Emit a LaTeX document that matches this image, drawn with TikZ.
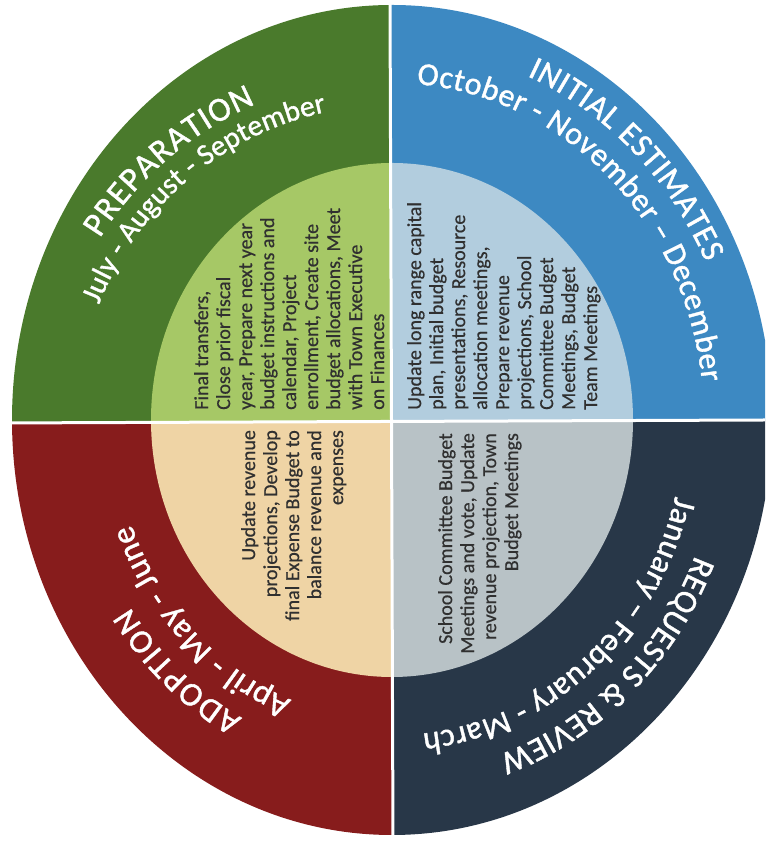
\documentclass[tikz,border=0pt]{standalone}
\usepackage{fontspec}
\setmainfont{Carlito}
\newfontfamily\ringfam{Carlito}[RawFeature={embolden=1.2}]
\newfontfamily\corefam{Carlito}[RawFeature={embolden=0.5}]
\usetikzlibrary{calc,decorations.text}

% quadrant colours: ring (dark) and core (light)
\definecolor{prepRing}{HTML}{4A7A2C}
\definecolor{prepCore}{HTML}{A6C866}
\definecolor{estRing}{HTML}{3D89C2}
\definecolor{estCore}{HTML}{B2CDDE}
\definecolor{adoptRing}{HTML}{871C1C}
\definecolor{adoptCore}{HTML}{EFD4A5}
\definecolor{reqRing}{HTML}{283748}
\definecolor{reqCore}{HTML}{B8C2C6}
\definecolor{coreText}{HTML}{303030}

\begin{document}
\begin{tikzpicture}[x=1pt,y=1pt,
  coretext/.style={rotate=90, inner sep=0pt, text=coreText,
    font=\corefam\fontsize{20}{22}\selectfont},
  divider/.style={white, line width=3pt}]

\useasboundingbox (0,0) rectangle (765,842);
\clip (0,0) rectangle (765,842);
\fill[white] (0,0) rectangle (765,842);

\coordinate (C) at (392,422);      % centre of the wheel
\coordinate (M) at (391.5,420.5);  % crossing of the dividers
\coordinate (vTop) at (390,842);
\coordinate (vBot) at (393,0);
\coordinate (hLeft) at (0,419);
\coordinate (hRight) at (765,422);

% one quadrant: clip region, ring colour, core colour
\newcommand{\quadrant}[3]{%
  \begin{scope}
    \clip #1;
    \fill[#2] (C) ellipse[x radius=380, y radius=415];
    \fill[#3] (C) ellipse[x radius=241, y radius=257];
  \end{scope}}

\quadrant{(0,842) -- (vTop) -- (M) -- (hLeft) -- cycle}{prepRing}{prepCore}
\quadrant{(vTop) -- (765,842) -- (hRight) -- (M) -- cycle}{estRing}{estCore}
\quadrant{(hLeft) -- (M) -- (vBot) -- (0,0) -- cycle}{adoptRing}{adoptCore}
\quadrant{(M) -- (hRight) -- (765,0) -- (vBot) -- cycle}{reqRing}{reqCore}

\draw[divider] (vTop) -- (vBot);
\draw[divider] (hLeft) -- (hRight);

% curved headings, read clockwise round the ring
% #1 start angle, #2 end angle, #3 baseline radius, #4 y/x ratio,
% #5 font size, #6 text
\newcommand{\ringlabel}[6]{%
  \path[decorate, decoration={text along path, text align=fit to path,
      text={|\ringfam\fontsize{#5}{#5}\selectfont\color{white}|#6}}]
    ($(C)+({#1}:{#3} and {#4*#3})$)
    arc[start angle={#1}, end angle={#2},
        x radius={#3}, y radius={#4*#3}];}

\ringlabel{148.1}{113.4}{344}{1.0}{34}{PREPARATION}
\ringlabel{158.5}{102}{315}{1.0}{29.5}{July - August - September}
\ringlabel{67}{25}{346}{1.08}{33}{INITIAL ESTIMATES}
\ringlabel{85.5}{6.5}{312}{1.08}{32}{October - November – December}
\ringlabel{-22.5}{-71}{328}{1.08}{33}{REQUESTS {\&} REVIEW}
\ringlabel{-14}{-84}{292}{1.08}{32.5}{January – February - March}
\ringlabel{241.5}{213.5}{314}{1.08}{33.5}{ADOPTION}
\ringlabel{248.8}{200.4}{278}{1.08}{33.5}{April - May - June}

% activities in the core of each quadrant
\node[coretext, anchor=north west, align=left] (prepText) at (194,432)
  {Final transfers,\\Close prior fiscal\\year, Prepare next year\\budget instructions and\\calendar, Project\\enrollment, Create site\\budget allocations, Meet\\with Town Executive\\on Finances};
\node[coretext, anchor=north west, align=left] (estText) at (407,432)
  {Update long range capital\\plan, Initial budget\\presentations, Resource\\allocation meetings,\\Prepare revenue\\projections, School\\Committee Budget\\Meetings, Budget\\Team Meetings};
\node[coretext, anchor=north east, align=right] (adoptText) at (241,412)
  {Update revenue\\projections, Develop\\final Expense Budget to\\balance revenue and\\expenses};
\node[coretext, anchor=north east, align=right] (reqText) at (438,409)
  {School Committee Budget\\Meetings and vote, Update\\revenue projection, Town\\Budget Meetings};
\end{tikzpicture}
\end{document}
